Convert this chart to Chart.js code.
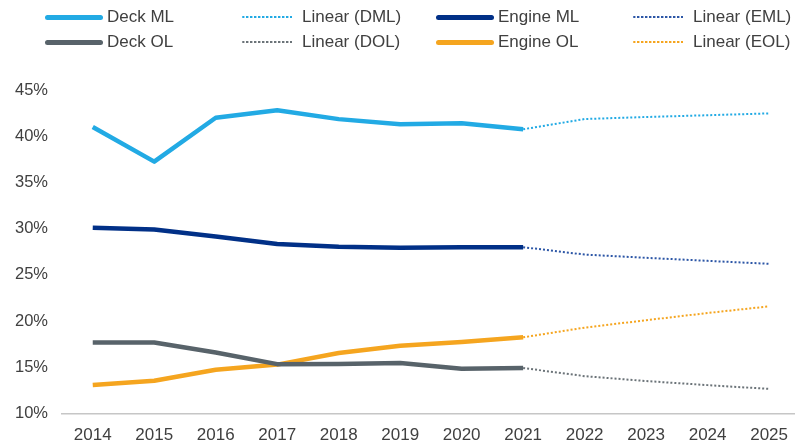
<!DOCTYPE html>
<html>
<head>
<meta charset="utf-8">
<script src="https://cdn.jsdelivr.net/npm/chart.js@4/dist/chart.umd.min.js"></script>
<style>
  html, body { margin: 0; padding: 0; background: #fff; overflow: hidden; }
  .wrap { position: relative; width: 800px; height: 444px; }
  .legend { position: absolute; left: 0; top: 0; width: 795px; height: 60px; z-index: 2;
            font-family: "Liberation Sans", Arial, sans-serif; font-size: 17px; color: #404040; }
  .legend_item { position: absolute; display: flex; align-items: center; height: 22px; white-space: nowrap; }
  .legend_line { display: inline-block; border-radius: 3px; }
</style>
</head>
<body>
<div class="wrap">
  <div class="legend" id="legend"></div>
  <canvas id="myChart"></canvas>
</div>
<script>
var years = ["2014", "2015", "2016", "2017", "2018", "2019", "2020", "2021", "2022", "2023", "2024", "2025"];

// actual shares 2014-2021, trend lines carry on from 2021 to 2025
var deckML      = [41.0, 37.25, 42.0, 42.8, 41.85, 41.3, 41.4, 40.75, null, null, null, null];
var deckMLTrend = [null, null, null, null, null, null, null, 40.75, 41.86, 42.08, 42.27, 42.47];
var engineML      = [30.1, 29.9, 29.15, 28.35, 28.05, 27.95, 28.0, 28.0, null, null, null, null];
var engineMLTrend = [null, null, null, null, null, null, null, 28.0, 27.2, 26.85, 26.52, 26.2];
var deckOL      = [17.7, 17.7, 16.6, 15.35, 15.37, 15.47, 14.86, 14.93, null, null, null, null];
var deckOLTrend = [null, null, null, null, null, null, null, 14.93, 14.05, 13.52, 13.08, 12.67];
var engineOL      = [13.1, 13.55, 14.75, 15.3, 16.55, 17.35, 17.75, 18.25, null, null, null, null];
var engineOLTrend = [null, null, null, null, null, null, null, 18.25, 19.3, 20.1, 20.88, 21.6];

var yTicks = [10, 15, 20, 25, 30, 35, 40, 45];

var lightBlue = "#22aae4";
var navy = "#013087";
var grey = "#58636a";
var orange = "#f5a51f";

const solid = (label, data, color) => ({
    label: label, data: data, borderColor: color, backgroundColor: color,
    borderWidth: 4.5, pointRadius: 0, tension: 0, spanGaps: false,
    borderJoinStyle: "round", trend: false
});
const dotted = (label, data, color) => ({
    label: label, data: data, borderColor: color, backgroundColor: color,
    borderWidth: 2, borderDash: [2, 2], pointRadius: 0, tension: 0, trend: true
});

var datasets = [
    solid("Deck ML", deckML, lightBlue),
    dotted("Linear (DML)", deckMLTrend, lightBlue),
    solid("Engine ML", engineML, navy),
    dotted("Linear (EML)", engineMLTrend, "#2c56a6"),
    solid("Deck OL", deckOL, grey),
    dotted("Linear (DOL)", deckOLTrend, "#6b7378"),
    solid("Engine OL", engineOL, orange),
    dotted("Linear (EOL)", engineOLTrend, orange)
];

// legend: 4 columns, 2 rows
var colLeft = [45, 242, 436, 633];
var rowTop = [6, 31];
var legend = document.getElementById("legend");
datasets.forEach((ds, i) => {
    var item = document.createElement("div");
    item.className = "legend_item";
    item.style.left = colLeft[i % 4] + "px";
    item.style.top = rowTop[Math.floor(i / 4)] + "px";
    var line = document.createElement("span");
    line.className = "legend_line";
    if (ds.trend) {
        line.style.width = "51px";
        line.style.borderTop = "2px dotted " + ds.borderColor;
        line.style.marginRight = "9px";
    } else {
        line.style.width = "58px";
        line.style.height = "5px";
        line.style.background = ds.borderColor;
        line.style.marginRight = "4px";
    }
    var txt = document.createElement("span");
    txt.textContent = ds.label;
    item.appendChild(line);
    item.appendChild(txt);
    legend.appendChild(item);
});

new Chart("myChart", {
    type: "line",
    data: { labels: years, datasets: datasets },
    options: {
        responsive: true,
        maintainAspectRatio: false,
        animation: false,
        layout: { padding: { top: 90, left: 0, right: 0, bottom: -14 } },
        plugins: { legend: { display: false }, tooltip: { enabled: false } },
        scales: {
            x: {
                offset: true,
                grid: { display: false, drawTicks: false },
                border: { display: true, color: "#c6c6c6", width: 1.5 },
                ticks: {
                    color: "#404040", padding: 12,
                    font: { family: "'Liberation Sans', Arial, sans-serif", size: 17 },
                    maxRotation: 0, autoSkip: false
                }
            },
            y: {
                min: 10, max: 45,
                afterFit: (scale) => { scale.width = 62; },
                afterBuildTicks: (scale) => { scale.ticks = yTicks.map(v => ({ value: v })); },
                grid: { display: false, drawTicks: false },
                border: { display: false },
                ticks: {
                    color: "#404040", padding: 14,
                    font: { family: "'Liberation Sans', Arial, sans-serif", size: 16.5 },
                    callback: (v) => v + "%"
                }
            }
        }
    }
});
</script>
</body>
</html>
